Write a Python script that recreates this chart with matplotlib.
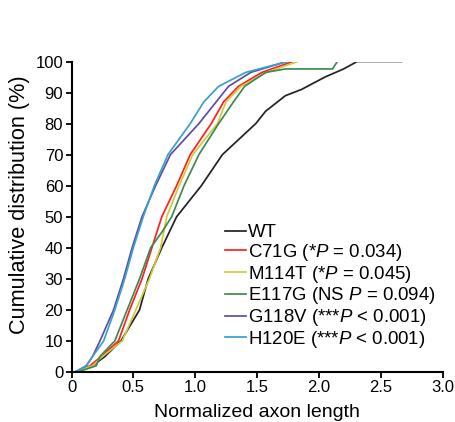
import matplotlib
matplotlib.use("Agg")
import matplotlib.pyplot as plt

plt.rcParams['font.family'] = ['Liberation Sans', 'DejaVu Sans']
plt.rcParams['mathtext.fontset'] = 'custom'
plt.rcParams['mathtext.rm'] = 'Liberation Sans'
plt.rcParams['mathtext.it'] = 'Liberation Sans:italic'

# cumulative percent levels and the axon length read at each level
levels = [0, 2, 5, 10, 20, 30, 40, 50, 60, 70, 80, 87, 92, 96.5, 100]

wt_y = [0, 2, 5, 10, 20, 30, 40, 50, 60, 70, 80, 84, 89, 91, 95, 97.6, 100, 100]
wt_x = [0.03, 0.17, 0.27, 0.40, 0.55, 0.62, 0.73, 0.85, 1.05, 1.22, 1.49, 1.57, 1.73, 1.86, 2.05, 2.2, 2.31, 2.67]

c71g_x = [0.03, 0.15, 0.24, 0.38, 0.47, 0.57, 0.65, 0.73, 0.85, 0.96, 1.13, 1.23, 1.35, 1.54, 1.79]
m114t_x = [0.03, 0.17, 0.25, 0.41, 0.52, 0.63, 0.72, 0.77, 0.87, 0.98, 1.18, 1.25, 1.37, 1.58, 1.83]
g118v_x = [0.03, 0.12, 0.17, 0.23, 0.34, 0.42, 0.49, 0.57, 0.68, 0.80, 1.03, 1.17, 1.27, 1.45, 1.74]
h120e_x = [0.03, 0.12, 0.17, 0.26, 0.35, 0.43, 0.50, 0.58, 0.67, 0.78, 0.96, 1.07, 1.19, 1.41, 1.75]

e117g_y = [0, 2, 5, 10, 20, 30, 40, 45, 50, 60, 70, 80, 87, 92, 96.5, 97.6, 97.6, 100]
e117g_x = [0.05, 0.2, 0.23, 0.35, 0.45, 0.55, 0.64, 0.73, 0.81, 0.91, 1.03, 1.19, 1.31, 1.40, 1.57, 1.73, 2.11, 2.15]

series = [
    (wt_x, wt_y, '#222222', 'WT'),
    (c71g_x, levels, '#ff1f1f', 'C71G (*$P$ = 0.034)'),
    (m114t_x, levels, '#d2c93c', 'M114T (*$P$ = 0.045)'),
    (e117g_x, e117g_y, '#3c8a52', 'E117G (NS $P$ = 0.094)'),
    (g118v_x, levels, '#5b4fa3', 'G118V (***$P$ < 0.001)'),
    (h120e_x, levels, '#3a9fcb', 'H120E (***$P$ < 0.001)'),
]

fig = plt.figure(figsize=(4.55, 4.22), dpi=100)
ax = fig.add_axes([71.5/455, 1-372/422, 371/455, 310.5/422])

for x, y, c, lab in series:
    ax.plot(x, y, color=c, lw=1.25, label=lab)

ax.set_xlim(0, 3)
ax.set_ylim(0, 100)
ax.set_xticks([0, 0.5, 1.0, 1.5, 2.0, 2.5, 3.0])
ax.set_xticklabels(['0', '0.5', '1.0', '1.5', '2.0', '2.5', '3.0'])
ax.set_yticks(range(0, 101, 10))
for s in ['top', 'right']:
    ax.spines[s].set_visible(False)
for s in ['left', 'bottom']:
    ax.spines[s].set_linewidth(1.5)
ax.tick_params(direction='out', length=4, width=1.3, labelsize=12, pad=2)
ax.set_xlabel('Normalized axon length', fontsize=14, labelpad=6)
ax.set_ylabel('Cumulative distribution (%)', fontsize=15.6)
ax.yaxis.set_label_coords(-0.113, 0.538)

ax.legend(loc='upper left', bbox_to_anchor=(0.413, 0.476), frameon=False,
          fontsize=13.4, handlelength=1.15, handletextpad=0.12,
          labelspacing=0.04, borderpad=0, borderaxespad=0)

fig.savefig('out.png', dpi=100)
